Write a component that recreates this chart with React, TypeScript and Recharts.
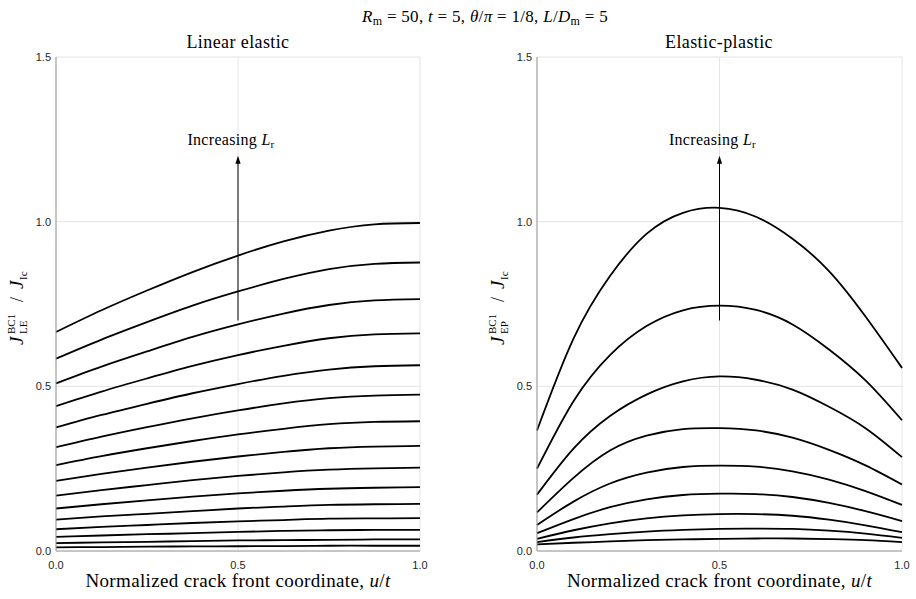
import { LineChart, Line, XAxis, YAxis, CartesianGrid, ReferenceLine } from 'recharts'

// crack front positions sampled for each panel
const uLinear = [0, 0.125, 0.25, 0.375, 0.5, 0.625, 0.75, 0.875, 1]
const uPlastic = [0, 0.1, 0.2, 0.3, 0.4, 0.5, 0.6, 0.7, 0.8, 0.9, 1]

// J_LE / J_Ic, one row per L_r level (highest first)
const linearCurves: number[][] = [
  [0.665, 0.731, 0.791, 0.847, 0.897, 0.94, 0.973, 0.992, 0.996],
  [0.584, 0.642, 0.695, 0.745, 0.788, 0.826, 0.856, 0.872, 0.876],
  [0.509, 0.56, 0.606, 0.65, 0.688, 0.721, 0.747, 0.761, 0.765],
  [0.44, 0.484, 0.524, 0.562, 0.595, 0.623, 0.646, 0.658, 0.661],
  [0.375, 0.413, 0.447, 0.479, 0.507, 0.532, 0.551, 0.561, 0.564],
  [0.315, 0.347, 0.376, 0.403, 0.427, 0.448, 0.464, 0.472, 0.475],
  [0.261, 0.288, 0.312, 0.334, 0.354, 0.371, 0.385, 0.392, 0.394],
  [0.213, 0.234, 0.253, 0.271, 0.287, 0.301, 0.312, 0.317, 0.319],
  [0.168, 0.185, 0.2, 0.215, 0.228, 0.239, 0.247, 0.251, 0.253],
  [0.129, 0.142, 0.154, 0.165, 0.175, 0.183, 0.189, 0.192, 0.194],
  [0.095, 0.105, 0.113, 0.121, 0.129, 0.135, 0.14, 0.142, 0.143],
  [0.066, 0.073, 0.079, 0.085, 0.09, 0.094, 0.098, 0.099, 0.1],
  [0.043, 0.047, 0.051, 0.054, 0.058, 0.061, 0.063, 0.064, 0.064],
  [0.024, 0.026, 0.028, 0.03, 0.032, 0.033, 0.034, 0.035, 0.035],
  [0.011, 0.012, 0.013, 0.014, 0.0145, 0.015, 0.016, 0.016, 0.016],
]

// J_EP / J_Ic, one row per L_r level (highest first)
const plasticCurves: number[][] = [
  [0.366, 0.645, 0.835, 0.963, 1.027, 1.042, 1.015, 0.948, 0.85, 0.712, 0.556],
  [0.25, 0.455, 0.595, 0.683, 0.731, 0.745, 0.732, 0.688, 0.612, 0.518, 0.397],
  [0.171, 0.311, 0.41, 0.475, 0.515, 0.53, 0.52, 0.49, 0.438, 0.373, 0.285],
  [0.117, 0.222, 0.305, 0.35, 0.37, 0.373, 0.366, 0.344, 0.307, 0.26, 0.202],
  [0.079, 0.15, 0.205, 0.238, 0.255, 0.259, 0.256, 0.242, 0.217, 0.182, 0.14],
  [0.054, 0.097, 0.133, 0.157, 0.17, 0.174, 0.173, 0.164, 0.146, 0.121, 0.091],
  [0.037, 0.063, 0.084, 0.099, 0.108, 0.112, 0.112, 0.107, 0.095, 0.078, 0.057],
  [0.027, 0.041, 0.051, 0.059, 0.064, 0.067, 0.068, 0.067, 0.062, 0.053, 0.04],
  [0.02, 0.025, 0.029, 0.033, 0.035, 0.037, 0.038, 0.038, 0.036, 0.033, 0.027],
]

const xTicks = [0, 0.5, 1]
const yTicks = [0, 0.5, 1, 1.5]

const SERIF = "'Liberation Serif', 'Times New Roman', serif"
const SANS = "'Liberation Sans', Arial, sans-serif"

function toRows(u: number[], curves: number[][]) {
  return u.map((x, i) => {
    const row: Record<string, number> = { u: x }
    curves.forEach((c, k) => { row['c' + k] = c[i] })
    return row
  })
}

const linearData = toRows(uLinear, linearCurves)
const plasticData = toRows(uPlastic, plasticCurves)

// arrow from the lowest to the highest L_r with its caption
function ArrowShape(props: any) {
  const { x1, y1, x2, y2 } = props
  const x = (x1 + x2) / 2
  const top = Math.min(y1, y2)
  const bottom = Math.max(y1, y2)
  return (
    <g>
      <line x1={x} y1={bottom} x2={x} y2={top + 6} stroke="#000" strokeWidth={1} />
      <path d={`M${x},${top} L${x - 2.6},${top + 8} L${x + 2.6},${top + 8} Z`} fill="#000" />
      <text x={x - 7} y={top - 11} textAnchor="middle" fontFamily={SERIF} fontSize={16} letterSpacing={0.3} fill="#000">
        {'Increasing '}
        <tspan fontStyle="italic">L</tspan>
        <tspan fontSize={11} dy={3}>r</tspan>
      </text>
    </g>
  )
}

function YLabel({ viewBox, sub }: any) {
  const bx = viewBox.x + viewBox.width - 33
  const cy = viewBox.y + viewBox.height / 2
  return (
    <g transform={`translate(${bx},${cy}) rotate(-90)`} fontFamily={SERIF} fill="#000">
      <text x={-41} y={0} fontSize={19} fontStyle="italic">J</text>
      <text x={-30} y={-8} fontSize={11}>BC1</text>
      <text x={-30} y={3.5} fontSize={11}>{sub}</text>
      <text x={2} y={0} fontSize={18}>/</text>
      <text x={15} y={0} fontSize={19} fontStyle="italic">J</text>
      <text x={24} y={3.5} fontSize={11}>Ic</text>
    </g>
  )
}

function XLabel({ viewBox }: any) {
  const cx = viewBox.x + viewBox.width / 2
  return (
    <text x={cx} y={viewBox.y + 36} textAnchor="middle" fontFamily={SERIF} fontSize={19} letterSpacing={0.35} fill="#000">
      {'Normalized crack front coordinate, '}
      <tspan fontStyle="italic">u</tspan>/<tspan fontStyle="italic">t</tspan>
    </text>
  )
}

function Panel({ data, count, width, axisWidth, right, sub }: {
  data: Record<string, number>[]; count: number; width: number; axisWidth: number; right: number; sub: string
}) {
  return (
    <LineChart width={width} height={599} data={data} margin={{ top: 57, right, bottom: 0, left: 0 }}>
      <CartesianGrid stroke="#e4e4e4" />
      <XAxis
        dataKey="u"
        type="number"
        domain={[0, 1]}
        ticks={xTicks}
        tickFormatter={(v: number) => v.toFixed(1)}
        height={48}
        tickSize={0}
        tickMargin={10}
        stroke="#9a9a9a"
        tick={{ fontSize: 11, fill: '#262626', fontFamily: SANS }}
        label={<XLabel />}
      />
      <YAxis
        type="number"
        domain={[0, 1.5]}
        ticks={yTicks}
        tickFormatter={(v: number) => v.toFixed(1)}
        width={axisWidth}
        tickSize={0}
        tickMargin={5}
        stroke="#9a9a9a"
        tick={{ fontSize: 11, fill: '#262626', fontFamily: SANS }}
        label={<YLabel sub={sub} />}
      />
      {Array.from({ length: count }, (_, k) => (
        <Line
          key={k}
          type="natural"
          dataKey={'c' + k}
          stroke="#000"
          strokeWidth={1.8}
          dot={false}
          isAnimationActive={false}
        />
      ))}
      <ReferenceLine
        segment={[{ x: 0.5, y: 0.7 }, { x: 0.5, y: 1.2 }]}
        shape={<ArrowShape />}
      />
    </LineChart>
  )
}

export default function App() {
  return (
    <div style={{ position: 'absolute', left: 0, top: 0, width: 916, height: 599, background: '#fff' }}>
      <div style={{ position: 'absolute', left: 0, top: 0 }}>
        <Panel data={linearData} count={linearCurves.length} width={460} axisWidth={56} right={40} sub="LE" />
      </div>
      <div style={{ position: 'absolute', left: 460, top: 0 }}>
        <Panel data={plasticData} count={plasticCurves.length} width={456} axisWidth={77} right={14} sub="EP" />
      </div>
      <svg width={916} height={60} style={{ position: 'absolute', left: 0, top: 0, pointerEvents: 'none' }}>
        <text x={485} y={22} textAnchor="middle" fontFamily={SERIF} fontSize={17} letterSpacing={0.3} fill="#000">
          <tspan fontStyle="italic">R</tspan>
          <tspan fontSize={12} dy={3}>m</tspan>
          <tspan dy={-3}>{' = 50, '}</tspan>
          <tspan fontStyle="italic">t</tspan>
          <tspan>{' = 5, '}</tspan>
          <tspan fontStyle="italic">θ</tspan>
          <tspan>/</tspan>
          <tspan fontStyle="italic">π</tspan>
          <tspan>{' = 1/8, '}</tspan>
          <tspan fontStyle="italic">L</tspan>
          <tspan>/</tspan>
          <tspan fontStyle="italic">D</tspan>
          <tspan fontSize={12} dy={3}>m</tspan>
          <tspan dy={-3}>{' = 5'}</tspan>
        </text>
        <text x={238} y={48} textAnchor="middle" fontFamily={SERIF} fontSize={18} letterSpacing={0.4} fill="#000">Linear elastic</text>
        <text x={719} y={48} textAnchor="middle" fontFamily={SERIF} fontSize={18} letterSpacing={0.4} fill="#000">Elastic-plastic</text>
      </svg>
    </div>
  )
}
